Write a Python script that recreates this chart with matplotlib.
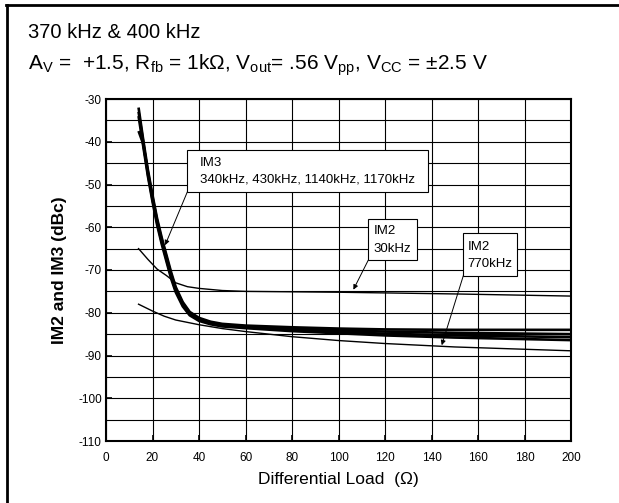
import numpy as np
import matplotlib
matplotlib.use("Agg")
import matplotlib.pyplot as plt
from matplotlib.patches import Rectangle
from matplotlib.lines import Line2D

plt.rcParams['font.family'] = ['Liberation Sans', 'DejaVu Sans']
plt.rcParams['mathtext.fontset'] = 'custom'
plt.rcParams['mathtext.rm'] = 'Liberation Sans'
plt.rcParams['mathtext.it'] = 'Liberation Sans'
plt.rcParams['mathtext.default'] = 'regular'
plt.rcParams['axes.unicode_minus'] = False

# differential load (ohm)
im3_x = [14, 16, 18, 20, 22, 24, 26, 28, 30, 33, 36, 40, 45, 50, 60, 80, 100, 120, 150, 200]
# four IM3 products (dBc), bundled together
im3_a = [-32, -39.5, -46.5, -52.5, -58, -62.5, -66.5, -70.5, -74, -77.5, -79.8, -81.2, -82.1, -82.6, -83.0, -83.4, -83.7, -83.9, -84.0, -84.0]
im3_b = [-37.5, -40.5, -47, -53, -58.5, -63, -67, -71, -74.4, -77.8, -80.0, -81.4, -82.3, -82.8, -83.2, -83.7, -84.1, -84.4, -84.7, -85.0]
im3_c = [-33, -40, -47.5, -53.5, -59, -63.5, -67.5, -71.5, -74.8, -78.2, -80.3, -81.6, -82.5, -83.0, -83.4, -84.0, -84.5, -84.9, -85.3, -85.7]
im3_d = [-34, -41, -48, -54, -59.5, -64, -68, -72, -75.2, -78.5, -80.6, -81.9, -82.7, -83.2, -83.6, -84.3, -84.8, -85.3, -85.8, -86.4]

im2_30_x = [14, 18, 22, 26, 30, 35, 40, 50, 60, 80, 100, 150, 200]
im2_30_y = [-65, -67.5, -69.8, -71.3, -73.0, -73.9, -74.3, -74.8, -75.0, -75.1, -75.2, -75.6, -76.1]

im2_770_x = [14, 20, 25, 30, 40, 50, 60, 80, 100, 120, 150, 200]
im2_770_y = [-78, -79.6, -80.8, -81.7, -82.8, -83.7, -84.4, -85.6, -86.5, -87.2, -88.0, -88.9]

x_ticks = np.arange(0, 201, 20)
y_ticks = np.arange(-110, -29, 10)

fig = plt.figure(figsize=(6.19, 5.03), dpi=100)
ax = fig.add_axes([106 / 619, 1 - 441 / 503, 465 / 619, 342 / 503])

for yy in [im3_a, im3_b, im3_c, im3_d]:
    ax.plot(im3_x, yy, color='k', lw=1.9, solid_capstyle='butt', zorder=4)
ax.plot(im2_30_x, im2_30_y, color='k', lw=1.0, zorder=4)
ax.plot(im2_770_x, im2_770_y, color='k', lw=1.0, zorder=4)

ax.set_xlim(0, 200)
ax.set_ylim(-110, -30)
ax.set_xticks(x_ticks)
ax.set_yticks(y_ticks)
ax.set_yticks(np.arange(-105, -30, 10), minor=True)
ax.grid(which='both', color='k', lw=0.8)
ax.set_axisbelow(True)
ax.tick_params(which='major', direction='in', length=4, width=1.2, labelsize=8.5)
ax.tick_params(axis='x', pad=8)
ax.tick_params(axis='y', pad=3)
ax.tick_params(which='minor', length=0)
for s in ax.spines.values():
    s.set_linewidth(1.5)

ax.set_xlabel('Differential Load  (Ω)', fontsize=12.5, labelpad=6)
ax.set_ylabel('IM2 and IM3 (dBc)', fontsize=12.5, fontweight='bold', labelpad=8)

# annotation boxes
def box(x0, x1, y0, y1):
    ax.add_patch(Rectangle((x0, y0), x1 - x0, y1 - y0, fc='white', ec='k', lw=0.8, zorder=5))

arrow = dict(arrowstyle='-|>', lw=0.7, color='k', mutation_scale=7, shrinkA=0, shrinkB=0)

box(35, 138.6, -51.7, -41.9)
ax.text(40.4, -44.9, 'IM3', fontsize=9.5, va='center', zorder=6)
ax.text(40.4, -48.8, '340kHz, 430kHz, 1140kHz, 1170kHz', fontsize=9.5, va='center', zorder=6)
ax.annotate('', xy=(25.4, -64.2), xytext=(35, -51.7), arrowprops=arrow, zorder=6)

box(112.8, 133.6, -67.7, -58.1)
ax.text(115, -60.9, 'IM2', fontsize=9.5, va='center', zorder=6)
ax.text(115, -65.0, '30kHz', fontsize=9.5, va='center', zorder=6)
ax.annotate('', xy=(106.4, -74.6), xytext=(112.8, -67.7), arrowprops=arrow, zorder=6)

box(153.4, 176.9, -71.3, -61.45)
ax.text(155.6, -64.6, 'IM2', fontsize=9.5, va='center', zorder=6)
ax.text(155.6, -68.5, '770kHz', fontsize=9.5, va='center', zorder=6)
ax.annotate('', xy=(144.4, -87.6), xytext=(153.7, -71.3), arrowprops=arrow, zorder=6)

# header text
fig.text(28 / 619, 1 - 32 / 503, '370 kHz & 400 kHz', fontsize=14.5, va='center')
fig.text(28 / 619, 1 - 65 / 503,
         r'$A_V$ =  +1.5, $R_{fb}$ = 1kΩ, $V_{out}$= .56 $V_{pp}$, $V_{CC}$ = ±2.5 V',
         fontsize=15, va='center')

# page frame (left and top only)
fig.add_artist(Line2D([7 / 619, 7 / 619], [0, 1 - 5 / 503], transform=fig.transFigure, color='k', lw=2))
fig.add_artist(Line2D([6 / 619, 1], [1 - 5 / 503, 1 - 5 / 503], transform=fig.transFigure, color='k', lw=2))

fig.savefig('out.png', dpi=100)
